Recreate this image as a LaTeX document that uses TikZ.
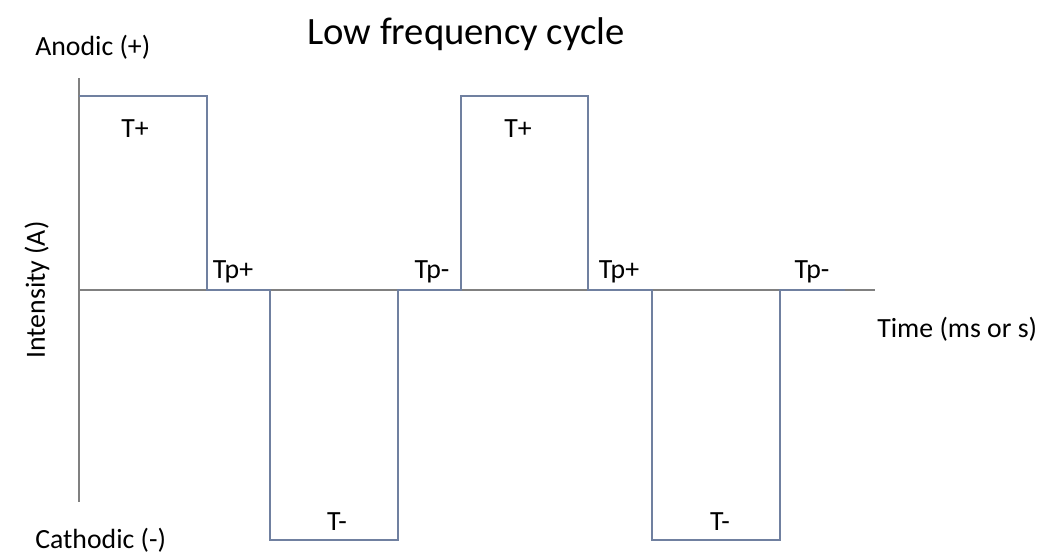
\documentclass[tikz,border=0pt]{standalone}
\usepackage{fontspec}
\setmainfont{Carlito}
\usetikzlibrary{positioning}
\definecolor{wavegray}{RGB}{112,128,160}
\definecolor{axisgray}{RGB}{128,128,128}

\begin{document}
\begin{tikzpicture}[
    x=0.02cm, y=-0.02cm,
    every node/.style={font=\fontsize{15.8}{18}\selectfont, inner sep=0pt},
    axisline/.style={axisgray, line width=1.2pt},
    wave/.style={wavegray, line width=1.2pt, line join=miter},
    heading/.style={font=\fontsize{22}{26}\selectfont}
  ]
  \useasboundingbox (0,0) rectangle (1051,555);

  % ============================================================
  %  Axes
  % ============================================================
  \coordinate (ytop) at (79,78);
  \coordinate (ybot) at (79,502);
  \coordinate (orig) at (79,290);
  \coordinate (xend) at (875,290);

  \draw[axisline] (ytop) -- (ybot);
  \draw[axisline] (orig) -- (xend);

  % ============================================================
  %  Square wave
  % ============================================================
  \draw[wave] (79,96) -- (207,96) -- (207,290) -- (270,290)
    -- (270,540) -- (398,540) -- (398,290) -- (461,290)
    -- (461,96) -- (588,96) -- (588,290) -- (652,290)
    -- (652,540) -- (780,540) -- (780,290) -- (845,290);

  % ============================================================
  %  Labels
  % ============================================================
  \node[heading] (title) at (466,34) {Low frequency cycle};
  \node[anchor=west] (anodic) at (35,47) {Anodic (+)};
  \node[anchor=west] (cathodic) at (35,540) {Cathodic (-)};
  \node[rotate=90] (intensity) at (37,290) {Intensity (A)};
  \node[anchor=west] (time) at (877,329) {Time (ms or s)};

  % pulse labels
  \node (tplusA) at (135,129) {T+};
  \node (tplusB) at (518,129) {T+};
  \node (tminA) at (337,522) {T-};
  \node (tminB) at (720,522) {T-};

  % pause labels
  \node (tpplusA) at (233,272) {Tp+};
  \node (tpminA) at (432,272) {Tp-};
  \node (tpplusB) at (619,272) {Tp+};
  \node (tpminB) at (812,272) {Tp-};

\end{tikzpicture}
\end{document}
